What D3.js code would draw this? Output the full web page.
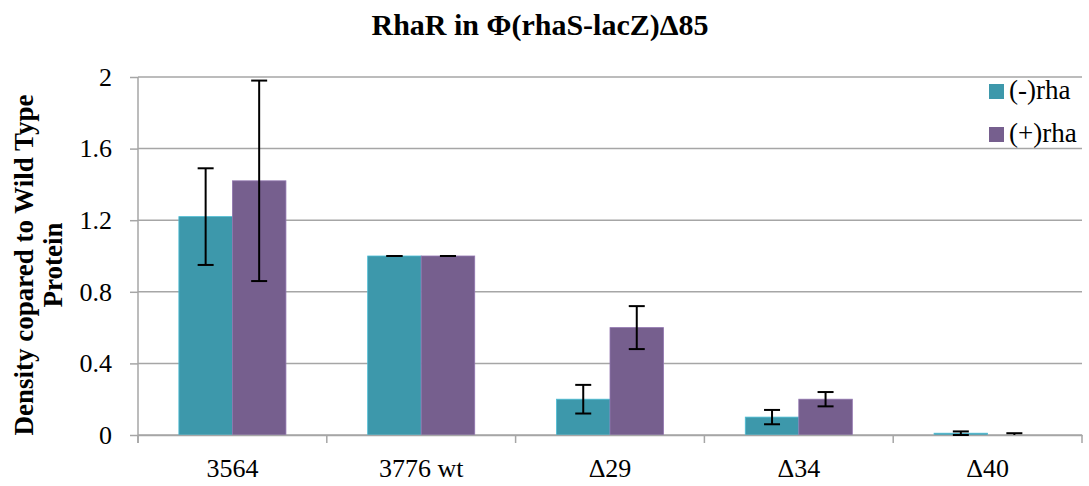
<!DOCTYPE html>
<html>
<head>
<meta charset="utf-8">
<script src="https://cdn.jsdelivr.net/npm/d3@7"></script>
<style>
  body { margin: 0; background: #fff; }
  text { font-family: 'Liberation Serif', serif; }
</style>
</head>
<body>
<div class="canvas"></div>
<script>
const categories = ['3564', '3776 wt', 'Δ29', 'Δ34', 'Δ40'];
const seriesNames = ['(-)rha', '(+)rha'];
const minusRha = [1.22, 1.0, 0.2, 0.1, 0.01];
const plusRha = [1.42, 1.0, 0.6, 0.2, 0.0];
const minusErr = [0.27, 0.0, 0.08, 0.04, 0.01];
const plusErr = [0.56, 0.0, 0.12, 0.04, 0.01];
const yTicks = [0, 0.4, 0.8, 1.2, 1.6, 2];
const colors = ['#3d98ab', '#765f8e'];

const width = 1089, height = 486;
const margin = { top: 77, right: 7, bottom: 51, left: 138 };
const graphWidth = width - margin.left - margin.right;
const graphHeight = height - margin.top - margin.bottom;

const svg = d3.select('.canvas').append('svg')
  .attr('width', width)
  .attr('height', height);

const graph = svg.append('g')
  .attr('transform', `translate(${margin.left}, ${margin.top})`);

//scales
const x = d3.scaleBand().domain(categories).range([0, graphWidth]).paddingInner(0).paddingOuter(0);
const x1 = d3.scaleBand().domain(seriesNames).range([x.bandwidth() * 0.2165, x.bandwidth() * 0.7835]);
const y = d3.scaleLinear().domain([0, 2]).range([graphHeight, 0]);

//gridlines
graph.append('g').selectAll('line').data(yTicks).join('line')
  .attr('x1', 0).attr('x2', graphWidth)
  .attr('y1', d => y(d)).attr('y2', d => y(d))
  .attr('stroke', '#a6a6a6').attr('stroke-width', 1.5);

const series = seriesNames.map((name, i) => ({
  name,
  values: categories.map((c, j) => ({
    cat: c,
    v: i === 0 ? minusRha[j] : plusRha[j],
    e: i === 0 ? minusErr[j] : plusErr[j]
  }))
}));

//bars
series.forEach((s, i) => {
  graph.append('g').selectAll('rect').data(s.values).join('rect')
    .attr('x', d => x(d.cat) + x1(s.name))
    .attr('y', d => y(d.v))
    .attr('width', x1.bandwidth())
    .attr('height', d => y(0) - y(d.v))
    .attr('fill', colors[i])
    .attr('stroke', d3.color(colors[i]).brighter(0.6))
    .attr('stroke-width', 0.8);
});

//axes
const xAxis = d3.axisBottom(x).tickSize(0).tickFormat('');
graph.append('g').attr('transform', `translate(0, ${graphHeight})`).call(xAxis)
  .call(g => g.select('.domain').attr('stroke', '#a6a6a6').attr('stroke-width', 1.5));

//category separator ticks
graph.append('g').selectAll('line').data(d3.range(categories.length + 1)).join('line')
  .attr('x1', d => d * x.step()).attr('x2', d => d * x.step())
  .attr('y1', graphHeight).attr('y2', graphHeight + 8)
  .attr('stroke', '#a6a6a6').attr('stroke-width', 1.5);

graph.append('g').selectAll('text').data(categories).join('text')
  .attr('x', d => x(d) + x.bandwidth() / 2)
  .attr('y', graphHeight + 42)
  .attr('text-anchor', 'middle')
  .attr('font-size', 26)
  .text(d => d);

const yAxis = d3.axisLeft(y).tickValues(yTicks).tickSize(8).tickFormat(d => d);
graph.append('g').call(yAxis)
  .call(g => g.selectAll('line').attr('stroke', '#a6a6a6').attr('stroke-width', 1.5))
  .call(g => g.select('.domain').attr('stroke', '#a6a6a6').attr('stroke-width', 1.5).attr('d', `M0,0V${graphHeight + 8}`))
  .call(g => g.selectAll('text').attr('font-size', 26).attr('x', -26).attr('font-family', 'Liberation Serif').attr('fill', '#000'));

//error bars
series.forEach((s) => {
  const g = graph.append('g');
  s.values.forEach(d => {
    const cx = x(d.cat) + x1(s.name) + x1.bandwidth() / 2;
    g.append('line')
      .attr('x1', cx).attr('x2', cx)
      .attr('y1', y(d.v + d.e)).attr('y2', y(Math.max(0, d.v - d.e)))
      .attr('stroke', '#000').attr('stroke-width', 2);
    [d.v + d.e, d.v - d.e].forEach(t => {
      if (t < 0) return;
      g.append('line')
        .attr('x1', cx - 8).attr('x2', cx + 8)
        .attr('y1', y(t)).attr('y2', y(t))
        .attr('stroke', '#000').attr('stroke-width', 2);
    });
  });
});

//title
svg.append('text')
  .attr('x', 540).attr('y', 35)
  .attr('text-anchor', 'middle')
  .attr('font-size', 30).attr('font-weight', 'bold')
  .text('RhaR in Φ(rhaS-lacZ)Δ85');

//y label
const yl = svg.append('text')
  .attr('transform', 'translate(0, 265) rotate(-90)')
  .attr('text-anchor', 'middle')
  .attr('font-size', 27).attr('font-weight', 'bold');
yl.append('tspan').attr('x', 0).attr('y', 33).text('Density copared to Wild Type');
yl.append('tspan').attr('x', 0).attr('y', 62).text('Protein');

//legend
const legend = svg.append('g').attr('transform', 'translate(989, 84)');
seriesNames.forEach((n, i) => {
  legend.append('rect')
    .attr('x', 0).attr('y', i * 43)
    .attr('width', 15).attr('height', 15)
    .attr('fill', colors[i]);
  legend.append('text')
    .attr('x', 20).attr('y', i * 43 + 15)
    .attr('font-size', 27)
    .text(n);
});
</script>
</body>
</html>
